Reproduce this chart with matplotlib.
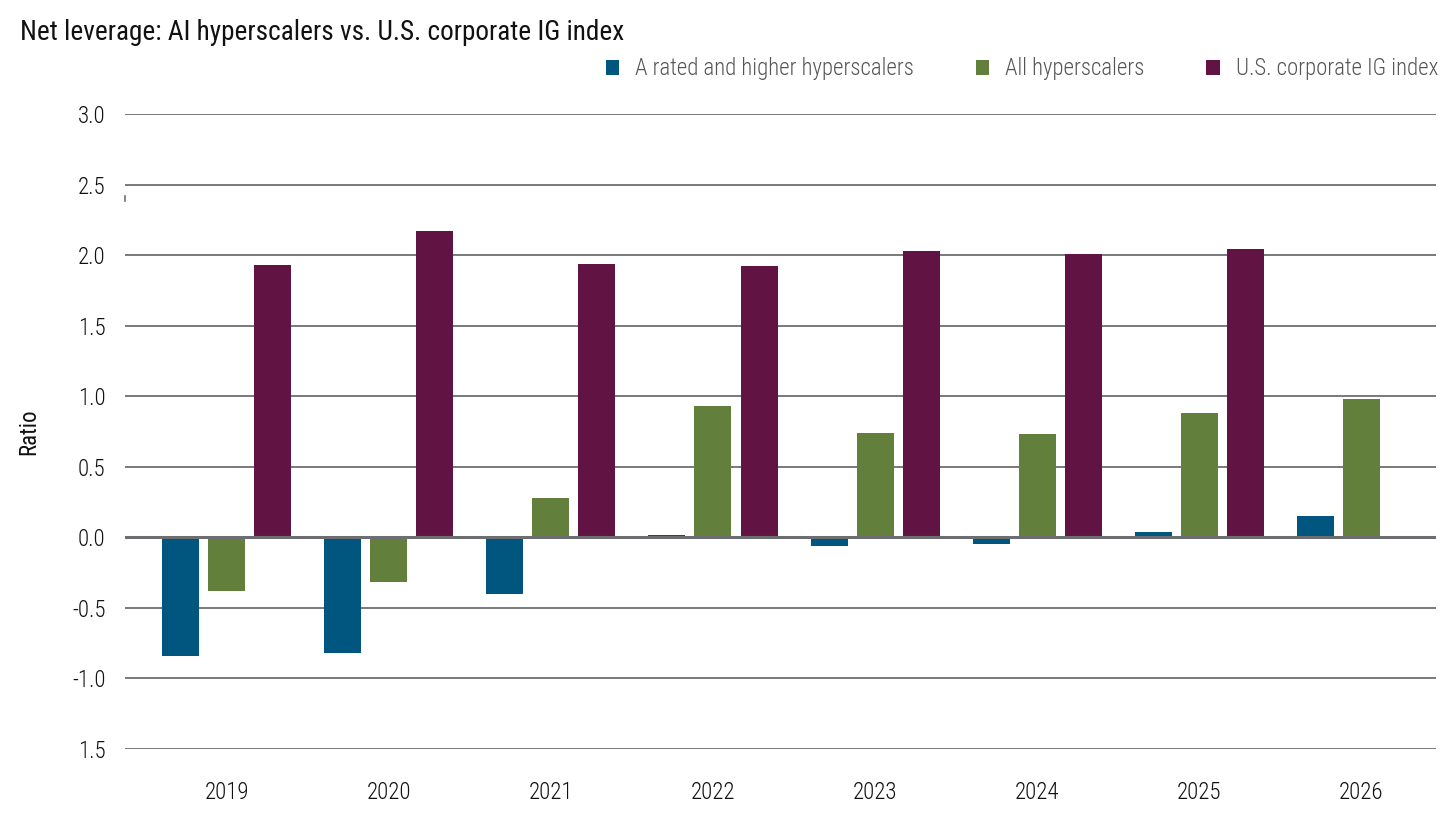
import matplotlib
matplotlib.use("Agg")
from matplotlib import pyplot as plt
from matplotlib.patches import Patch
import numpy as np

plt.rcParams['font.family'] = ['Roboto Condensed', 'Barlow Semi Condensed', 'DejaVu Sans']

years = ['2019', '2020', '2021', '2022', '2023', '2024', '2025', '2026']
a_rated = [-0.84, -0.82, -0.40, 0.02, -0.06, -0.05, 0.035, 0.15]
all_hyper = [-0.38, -0.32, 0.28, 0.93, 0.74, 0.73, 0.88, 0.98]
ig_index = [1.93, 2.17, 1.94, 1.92, 2.03, 2.01, 2.04]   # no 2026 value

series_names = ['A rated and higher hyperscalers', 'All hyperscalers', 'U.S. corporate IG index']
colors = ['#00567f', '#62803c', '#611443']
ytick_vals = [3.0, 2.5, 2.0, 1.5, 1.0, 0.5, 0.0, -0.5, -1.0, -1.5]
ytick_text = ['3.0', '2.5', '2.0', '1.5', '1.0', '0.5', '0.0', '-0.5', '-1.0', '1.5']

fig = plt.figure(figsize=(14.56, 8.19), dpi=100)
ax = fig.add_axes([125/1456, 1 - 749/819, (1436-125)/1456, (749-114)/819])

x = np.arange(len(years))
slot = 0.284
w = 0.228
ax.bar(x - slot, a_rated, w, color=colors[0], zorder=2)
ax.bar(x, all_hyper, w, color=colors[1], zorder=2)
ax.bar(x[:len(ig_index)] + slot, ig_index, w, color=colors[2], zorder=2)

for v in ytick_vals:
    if v == 0:
        ax.axhline(v, color='#6d6e71', lw=2.2, zorder=3)
    else:
        ax.axhline(v, color='#6d6e71', lw=1.3, zorder=1)

# small stray mark near the 2.5 line
ax.plot([-0.625, -0.625], [2.42, 2.38], color='#6d6e71', lw=1.2, clip_on=False)

ax.set_xlim(-0.627, 7.46)
ax.set_ylim(-1.5, 3.0)
ax.set_yticks(ytick_vals)
ax.set_yticklabels(ytick_text)
ax.set_xticks(x)
ax.set_xticklabels(years)
ax.tick_params(axis='both', length=0, labelsize=16.5, colors='#111111')
ax.tick_params(axis='y', pad=14)
ax.tick_params(axis='x', pad=23)
for lbl in ax.get_xticklabels() + ax.get_yticklabels():
    lbl.set_fontweight('light')
for s in ax.spines.values():
    s.set_visible(False)

ax.set_ylabel('Ratio', fontsize=16.5, labelpad=23, color='#111111')

fig.text(20/1456, 1 - 32/819, 'Net leverage: AI hyperscalers vs. U.S. corporate IG index',
         fontsize=19.6, va='center', ha='left', color='#111111')

handles = [Patch(facecolor=c, edgecolor='none') for c in colors]
leg = fig.legend(handles, series_names, loc='center right', bbox_to_anchor=(1438/1456, 1 - 69/819),
                 ncol=3, frameon=False, handlelength=0.6, handleheight=0.6,
                 handletextpad=0.7, columnspacing=2.7, labelcolor='#555555', borderaxespad=0,
                 borderpad=0, prop={'size': 16.4, 'weight': 'light'})

fig.savefig('out.png', dpi=100)
